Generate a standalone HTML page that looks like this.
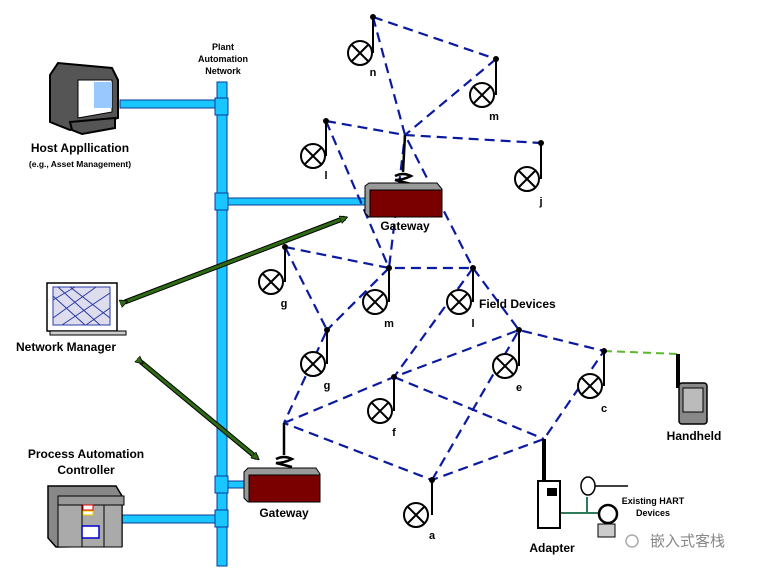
<!DOCTYPE html>
<html><head><meta charset="utf-8"><style>
body{margin:0;background:#fff;}
svg{display:block;font-family:"Liberation Sans",Arial,sans-serif;font-weight:bold;}
</style></head><body>
<svg width="768" height="574" viewBox="0 0 768 574" xmlns="http://www.w3.org/2000/svg">
<defs>
<marker id="ga" markerWidth="8" markerHeight="8" refX="5" refY="4" orient="auto" markerUnits="userSpaceOnUse">
<path d="M0,0 L8,4 L0,8 Z" fill="#2e6b12" stroke="#000" stroke-width="0.8"/></marker>
<g id="dev"><circle cx="0" cy="0" r="12" fill="#fff" stroke="#000" stroke-width="2"/><path d="M-8.5,-8.5 L8.5,8.5 M8.5,-8.5 L-8.5,8.5" stroke="#000" stroke-width="2"/></g>
</defs>
<!-- plant network pipe -->
<rect x="217" y="82" width="10" height="484" fill="#1ac6ff" stroke="#0a3a9a" stroke-width="1"/>
<rect x="120" y="100" width="98" height="8" fill="#1ac6ff" stroke="#0a3a9a"/>
<rect x="226" y="198" width="144" height="7" fill="#1ac6ff" stroke="#0a3a9a"/>
<rect x="226" y="481" width="22" height="7" fill="#1ac6ff" stroke="#0a3a9a"/>
<rect x="122" y="515" width="96" height="8" fill="#1ac6ff" stroke="#0a3a9a"/>
<rect x="215" y="98" width="13" height="17" fill="#1ac6ff" stroke="#0a3a9a"/>
<rect x="215" y="193" width="13" height="17" fill="#1ac6ff" stroke="#0a3a9a"/>
<rect x="215" y="476" width="13" height="17" fill="#1ac6ff" stroke="#0a3a9a"/>
<rect x="215" y="510" width="13" height="17" fill="#1ac6ff" stroke="#0a3a9a"/>
<text x="223" y="50" font-size="9" text-anchor="middle">Plant</text>
<text x="223" y="62" font-size="9" text-anchor="middle">Automation</text>
<text x="223" y="74" font-size="9" text-anchor="middle">Network</text>
<!-- host computer -->
<polygon points="50,75 58,63 112,68 118,80 118,118 70,130 50,122" fill="#555" stroke="#000" stroke-width="2"/>
<polygon points="78,80 112,80 112,112 78,118" fill="#fff" stroke="#000"/>
<rect x="94" y="82" width="18" height="26" fill="#99c8ff"/>
<polygon points="70,122 115,118 115,128 82,134 72,130" fill="#555" stroke="#000" stroke-width="2"/>
<text x="80" y="152" font-size="12" text-anchor="middle">Host Appllication</text>
<text x="80" y="167" font-size="8.5" text-anchor="middle">(e.g., Asset Management)</text>
<!-- network manager -->
<rect x="47" y="283" width="70" height="48" fill="#fff" stroke="#000" stroke-width="1.5"/>
<rect x="53" y="287" width="57" height="38" fill="#dde" stroke="#2a3aa8"/>
<path d="M53,300 L75,287 M53,318 L96,287 M62,325 L110,293 M86,325 L110,308 M58,287 L100,325 M70,287 L110,318 M53,296 L85,325" stroke="#2a3aa8" stroke-width="1"/>
<rect x="50" y="331" width="76" height="4" fill="#ccc" stroke="#000"/>
<text x="66" y="351" font-size="12" text-anchor="middle">Network Manager</text>
<!-- controller -->
<text x="86" y="458" font-size="12" text-anchor="middle">Process Automation</text>
<text x="86" y="474" font-size="12" text-anchor="middle">Controller</text>
<polygon points="48,486 116,486 122,496 122,546 56,547 48,538" fill="#888" stroke="#000" stroke-width="1.5"/>
<rect x="58" y="496" width="66" height="9" fill="#999" stroke="#000"/>
<rect x="58" y="505" width="64" height="42" fill="#aaa" stroke="#000"/>
<rect x="82" y="505" width="22" height="42" fill="#aaa" stroke="#000"/>
<rect x="83" y="505" width="10" height="5" fill="#fff" stroke="#d00"/>
<rect x="83" y="511" width="10" height="4" fill="#fff" stroke="#ec0"/>
<rect x="82" y="526" width="17" height="12" fill="#fff" stroke="#00c" stroke-width="1.5"/>
<!-- green arrows -->
<line x1="125" y1="302" x2="345" y2="218" stroke="#000" stroke-width="5"/>
<line x1="125" y1="302" x2="345" y2="218" stroke="#2e6b12" stroke-width="3" marker-end="url(#ga)" marker-start="url(#ga)"/>
<line x1="141" y1="362" x2="257" y2="458" stroke="#000" stroke-width="5"/>
<line x1="141" y1="362" x2="257" y2="458" stroke="#2e6b12" stroke-width="3" marker-end="url(#ga)" marker-start="url(#ga)"/>
<!-- mesh -->
<g stroke="#0a1aa0" stroke-width="2.2" stroke-dasharray="10,6" fill="none">
<path d="M373,17 L496,59"/>
<path d="M373,17 L405,135 L473,268 L519,330"/>
<path d="M496,59 L405,135 L389,268"/>
<path d="M326,121 L405,135 L541,143"/>
<path d="M326,121 L389,268"/>
<path d="M285,247 L389,268 L473,268"/>
<path d="M285,247 L327,330 L284,423"/>
<path d="M389,268 L327,330"/>
<path d="M473,268 L394,377"/>
<path d="M284,423 L394,377 L519,330 L604,351 L544,439 L432,480 L284,423"/>
<path d="M394,377 L544,439"/>
<path d="M432,480 L519,330"/>
</g>
<path d="M604,351 L678,354" stroke="#5cb82e" stroke-width="2" stroke-dasharray="8,5"/>
<!-- field devices -->
<g stroke="#000" stroke-width="2">
<path d="M373,17 V53 M496,59 V95 M326,121 V156 M541,143 V179 M285,247 V282 M389,268 V302 M473,268 V302 M327,330 V364 M519,330 V366 M394,377 V411 M604,351 V386 M432,480 V515"/>
</g>
<use href="#dev" x="360" y="53"/><use href="#dev" x="482" y="95"/><use href="#dev" x="313" y="156"/>
<use href="#dev" x="527" y="179"/><use href="#dev" x="271" y="282"/><use href="#dev" x="375" y="302"/>
<use href="#dev" x="459" y="302"/><use href="#dev" x="313" y="364"/><use href="#dev" x="505" y="366"/>
<use href="#dev" x="380" y="411"/><use href="#dev" x="590" y="386"/><use href="#dev" x="416" y="515"/>
<g fill="#000">
<circle cx="373" cy="17" r="3"/><circle cx="496" cy="59" r="3"/><circle cx="326" cy="121" r="3"/><circle cx="541" cy="143" r="3"/>
<circle cx="285" cy="247" r="3"/><circle cx="389" cy="268" r="3"/><circle cx="473" cy="268" r="3"/><circle cx="327" cy="330" r="3"/>
<circle cx="519" cy="330" r="3"/><circle cx="394" cy="377" r="3"/><circle cx="604" cy="351" r="3"/><circle cx="432" cy="480" r="3"/>
</g>
<g font-size="11" text-anchor="middle">
<text x="373" y="76">n</text><text x="494" y="120">m</text><text x="326" y="179">l</text><text x="541" y="205">j</text>
<text x="284" y="307">g</text><text x="389" y="327">m</text><text x="473" y="327">l</text><text x="327" y="389">g</text>
<text x="519" y="391">e</text><text x="394" y="436">f</text><text x="604" y="412">c</text><text x="432" y="539">a</text>
</g>
<text x="479" y="308" font-size="12">Field Devices</text>
<!-- gateway top -->
<path d="M405,135 L403,172 M395,176 q8,-4 16,0 q-8,4 -16,4 q8,2 16,4" stroke="#000" stroke-width="2.5" fill="none"/>
<polygon points="365,186 369,183 437,183 442,189 442,217 369,217 365,213" fill="#999" stroke="#000"/>
<rect x="370" y="190" width="72" height="27" fill="#7a0000" stroke="#000"/>
<text x="405" y="230" font-size="12" text-anchor="middle">Gateway</text>
<!-- gateway bottom -->
<path d="M284,423 L284,455 M276,459 q8,-4 16,0 q-8,4 -16,4 q8,2 16,4" stroke="#000" stroke-width="2.5" fill="none"/>
<polygon points="244,472 248,468 316,468 320,474 320,502 248,502 244,498" fill="#999" stroke="#000"/>
<rect x="249" y="475" width="71" height="27" fill="#7a0000" stroke="#000"/>
<text x="284" y="517" font-size="12" text-anchor="middle">Gateway</text>
<!-- handheld -->
<rect x="676" y="354" width="4" height="34" fill="#000"/>
<rect x="679" y="383" width="28" height="41" rx="3" fill="#888" stroke="#000" stroke-width="1.5"/>
<rect x="683" y="388" width="20" height="24" fill="#bbb" stroke="#000"/>
<text x="694" y="440" font-size="12" text-anchor="middle">Handheld</text>
<!-- adapter -->
<rect x="542" y="439" width="4" height="42" fill="#000"/>
<rect x="538" y="481" width="22" height="47" fill="#fff" stroke="#000" stroke-width="2"/>
<rect x="547" y="488" width="10" height="8" fill="#000"/>
<path d="M561,513 H598 M587,513 V497" stroke="#2e7d5a" stroke-width="2"/>
<ellipse cx="588" cy="486" rx="7" ry="9" fill="#fff" stroke="#000" stroke-width="1.5"/>
<path d="M595,486 H628" stroke="#000" stroke-width="1.5"/>
<circle cx="608" cy="514" r="9" fill="#fff" stroke="#000" stroke-width="2.5"/>
<rect x="598" y="524" width="17" height="13" fill="#ccc" stroke="#000"/>
<text x="552" y="552" font-size="12" text-anchor="middle">Adapter</text>
<text x="653" y="504" font-size="9" text-anchor="middle">Existing HART</text>
<text x="653" y="516" font-size="9" text-anchor="middle">Devices</text>
<text x="650" y="546" font-size="15" font-weight="normal" fill="#888" style='font-family:"Liberation Sans","Noto Sans CJK SC",sans-serif'>嵌入式客栈</text>
<circle cx="632" cy="541" r="6" fill="none" stroke="#aaa" stroke-width="1.5"/>
</svg>
</body></html>
